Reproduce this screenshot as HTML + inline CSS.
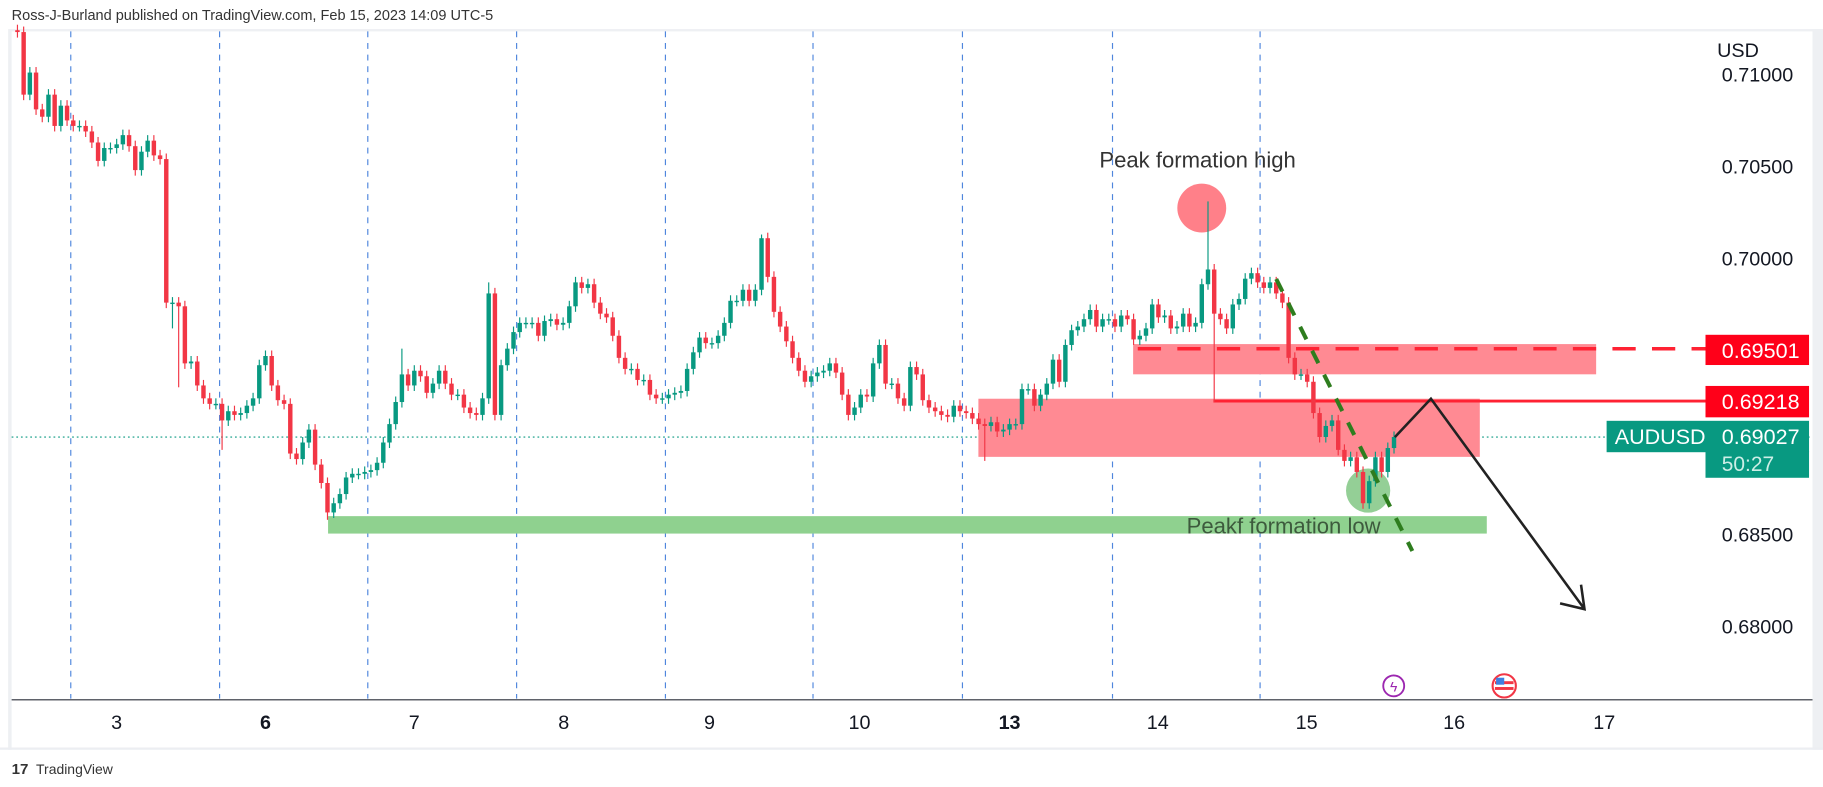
<!DOCTYPE html>
<html><head><meta charset="utf-8"><title>AUDUSD chart</title>
<style>
html,body{margin:0;padding:0;background:#fff;}
svg{display:block;font-family:"Liberation Sans",sans-serif;}
</style></head>
<body>
<svg id="chart" width="1823" height="787" viewBox="0 0 1567 677" preserveAspectRatio="none" xmlns="http://www.w3.org/2000/svg">
  <rect x="0" y="0" width="1567" height="677" fill="#fff"/>
  <text x="10" y="17" font-size="12.5" fill="#333">Ross-J-Burland published on TradingView.com, Feb 15, 2023 14:09 UTC-5</text>
  <rect x="9" y="25" width="1558" height="2" fill="#eef0f3"/>
  <rect x="7" y="25" width="3" height="620" fill="#eef0f3"/>
  <rect x="1558" y="25" width="9" height="620" fill="#eef0f3"/>
  <g id="grid"></g>
  <line x1="10" y1="376" x2="1557" y2="376" stroke="#089981" stroke-width="1" stroke-dasharray="1.5 2.5"/>
  <!-- zones -->
  <rect x="974" y="296" width="398" height="26" fill="#ff8a93"/>
  <rect x="841" y="343" width="431" height="50" fill="#ff8a93"/>
  <rect x="282" y="444" width="996" height="15" fill="#8fd18f"/>
  <line x1="978" y1="300" x2="1466" y2="300" stroke="#ff2233" stroke-width="3" stroke-dasharray="20 14"/>
  <line x1="1043" y1="345" x2="1466" y2="345" stroke="#ff2233" stroke-width="2.5"/>
  <circle cx="1033" cy="179" r="21" fill="#ff8089"/>
  <circle cx="1176" cy="422" r="19" fill="#4caf50" fill-opacity="0.6"/>
  <g id="candles"></g>
  <line x1="1097" y1="240" x2="1214" y2="474" stroke="#2e7d1e" stroke-width="3.5" stroke-dasharray="12 11"/>
  <g fill="none" stroke="#222" stroke-width="2.2">
    <polyline points="1199,376 1230,343 1362,524"/>
    <polyline points="1341,519 1362,524 1359,503"/>
  </g>
  <text x="945" y="144" font-size="19" fill="#333">Peak formation high</text>
  <text x="1020" y="459" font-size="19" fill="#3d5a3d">Peakf formation low</text>
  <!-- price axis -->
  <g id="yaxis"></g>
  <text x="1476" y="49" font-size="17" fill="#131722">USD</text>
  <rect x="1466" y="288" width="89" height="26" fill="#ff0019"/>
  <text x="1480" y="308" font-size="18.5" fill="#fff">0.69501</text>
  <rect x="1466" y="332" width="89" height="27" fill="#ff0019"/>
  <text x="1480" y="352" font-size="18.5" fill="#fff">0.69218</text>
  <rect x="1381" y="362" width="174" height="27" fill="#089981"/>
  <rect x="1466" y="388" width="89" height="23" fill="#089981"/>
  <text x="1388" y="382" font-size="18.5" fill="#fff">AUDUSD</text>
  <text x="1480" y="382" font-size="18.5" fill="#fff">0.69027</text>
  <text x="1480" y="405" font-size="18" fill="#cdeee6">50:27</text>
  <!-- time axis -->
  <line x1="10" y1="602" x2="1558" y2="602" stroke="#2a2e39" stroke-width="1"/>
  <g id="xaxis"></g>
  <g>
    <circle cx="1198" cy="590" r="9" fill="#fff" stroke="#9c27b0" stroke-width="1.6"/>
    <text x="1198" y="595" font-size="12" text-anchor="middle" fill="#9c27b0">ϟ</text>
  </g>
  <g>
    <circle cx="1293" cy="590" r="10" fill="#fff" stroke="#f23645" stroke-width="1.8"/>
    <rect x="1285" y="586" width="16" height="2.5" fill="#f23645"/>
    <rect x="1285" y="591" width="16" height="2.5" fill="#f23645"/>
    <rect x="1286" y="583" width="7" height="6" fill="#3f7fe0"/>
  </g>
  <line x1="0" y1="644" x2="1567" y2="644" stroke="#eceef2" stroke-width="2"/>
  <g>
    <text x="10" y="666" font-size="13" font-weight="bold" fill="#333">17</text>
    <text x="31" y="666" font-size="12" fill="#333">TradingView</text>
  </g>
</svg>
<script>
const closes = [0.7123,0.7089,0.7101,0.7081,0.7077,0.7089,0.7072,0.7083,0.7075,0.7072,0.7072,0.7069,0.7063,0.7053,0.7060,0.7060,0.7062,0.7067,0.7061,0.7048,0.7058,0.7064,0.7056,0.7054,0.6976,0.6976,0.6974,0.6943,0.6944,0.6931,0.6924,0.6921,0.6921,0.6912,0.6917,0.6915,0.6916,0.6920,0.6924,0.6942,0.6947,0.6931,0.6923,0.6921,0.6894,0.6891,0.6900,0.6907,0.6888,0.6878,
0.6862,0.6867,0.6872,0.6881,0.6883,0.6883,0.6884,0.6885,0.6889,0.6900,0.6910,0.6922,0.6937,0.6931,0.6939,0.6936,0.6927,0.6932,0.6939,0.6932,0.6926,0.6926,0.6919,0.6916,0.6915,0.6924,0.6981,0.6915,0.6942,0.6951,0.6960,0.6965,0.6965,0.6965,0.6958,0.6966,0.6967,0.6964,0.6965,0.6974,0.6987,0.6984,0.6986,0.6976,0.6970,0.6968,0.6958,0.6946,0.6940,0.6940,
0.6934,0.6934,0.6926,0.6924,0.6924,0.6926,0.6927,0.6928,0.6940,0.6949,0.6957,0.6954,0.6954,0.6958,0.6965,0.6977,0.6977,0.6983,0.6977,0.6983,0.7011,0.6990,0.6971,0.6963,0.6955,0.6946,0.6939,0.6933,0.6936,0.6938,0.6939,0.6943,0.6938,0.6926,0.6915,0.6919,0.6926,0.6925,0.6943,0.6953,0.6932,0.6932,0.6924,0.6920,0.6941,0.6937,0.6923,0.6919,0.6917,0.6915,
0.6914,0.6920,0.6917,0.6916,0.6913,0.6910,0.6909,0.6911,0.6906,0.6907,0.6910,0.6910,0.6929,0.6929,0.6920,0.6926,0.6932,0.6945,0.6933,0.6953,0.6961,0.6963,0.6967,0.6972,0.6963,0.6967,0.6967,0.6963,0.6969,0.6967,0.6956,0.6958,0.6962,0.6975,0.6968,0.6969,0.6962,0.6963,0.6970,0.6963,0.6965,0.6986,0.6994,0.6970,0.6967,0.6962,0.6975,0.6978,0.6989,0.6992,
0.6987,0.6984,0.6987,0.6981,0.6976,0.6946,0.6937,0.6937,0.6933,0.6916,0.6903,0.6909,0.6912,0.6896,0.6890,0.6892,0.6884,0.6867,0.6879,0.6892,0.6884,0.6897,0.6903];
const firstOpen = 0.7124;
const spikeHighIdx = [62, 76, 120, 192];
const spikeHighVal = [0.6951, 0.6987, 0.7013, 0.7031];
const spikeLowIdx = [25, 26, 33, 50, 156, 193, 217];
const spikeLowVal = [0.6962, 0.6930, 0.6896, 0.6858, 0.6890, 0.6922, 0.6864];
const priceTicks = [0.71, 0.705, 0.70, 0.685, 0.68];
const dayLabels = ["3","6","7","8","9","10","13","14","15","16","17"];
const dayBold = [false,true,false,false,false,false,true,false,false,false,false];
const dayIndex = [16, 40, 64, 88.1, 111.6, 135.8, 160, 183.9, 207.9, 231.7, 255.9];
const separatorIndex = [8.6, 32.6, 56.5, 80.5, 104.5, 128.3, 152.4, 176.6, 200.4];

const NS = "http://www.w3.org/2000/svg";
function xs(i){ return 15 + i * 5.33; }
function ys(p){ return 64 + (0.71 - p) * 15833; }
function mk(tag, attrs, parent){
  const e = document.createElementNS(NS, tag);
  for (const k in attrs) e.setAttribute(k, attrs[k]);
  parent.appendChild(e); return e;
}
const grid = document.getElementById("grid");
separatorIndex.forEach(function(si){
  const l = mk("line", {x1: xs(si), x2: xs(si), y1: 27, y2: 601, stroke: "#4f86dd", "stroke-width": 1, "stroke-dasharray": "5 5"}, grid);
  
  
});
const cg = document.getElementById("candles");
closes.forEach(function(c, i){
  const o = i === 0 ? firstOpen : closes[i-1];
  let hi = Math.max(o, c) + 0.0003, lo = Math.min(o, c) - 0.0003;
  const hk = spikeHighIdx.indexOf(i); if (hk >= 0) hi = spikeHighVal[hk];
  const lk = spikeLowIdx.indexOf(i); if (lk >= 0) lo = spikeLowVal[lk];
  const col = c >= o ? "#089981" : "#f23645";
  const x = xs(i);
  const g = mk("g", {}, cg);
  
  
  mk("line", {x1: x, x2: x, y1: ys(hi), y2: ys(lo), stroke: col, "stroke-width": 1}, g);
  const top = ys(Math.max(o, c)), bot = ys(Math.min(o, c));
  mk("rect", {x: x - 1.9, y: top, width: 3.8, height: Math.max(1.2, bot - top), fill: col}, g);
});
const ya = document.getElementById("yaxis");
priceTicks.forEach(function(p){
  const t = mk("text", {x: 1480, y: ys(p) + 6, "font-size": 17, fill: "#131722"}, ya);
  t.textContent = p.toFixed(5);
  
  
});
const xa = document.getElementById("xaxis");
dayLabels.forEach(function(d, k){
  const t = mk("text", {x: xs(dayIndex[k]), y: 627, "font-size": 17, "text-anchor": "middle", fill: "#131722", "font-weight": dayBold[k] ? "bold" : "normal"}, xa);
  t.textContent = d;
  
  
});
</script>
</body></html>
